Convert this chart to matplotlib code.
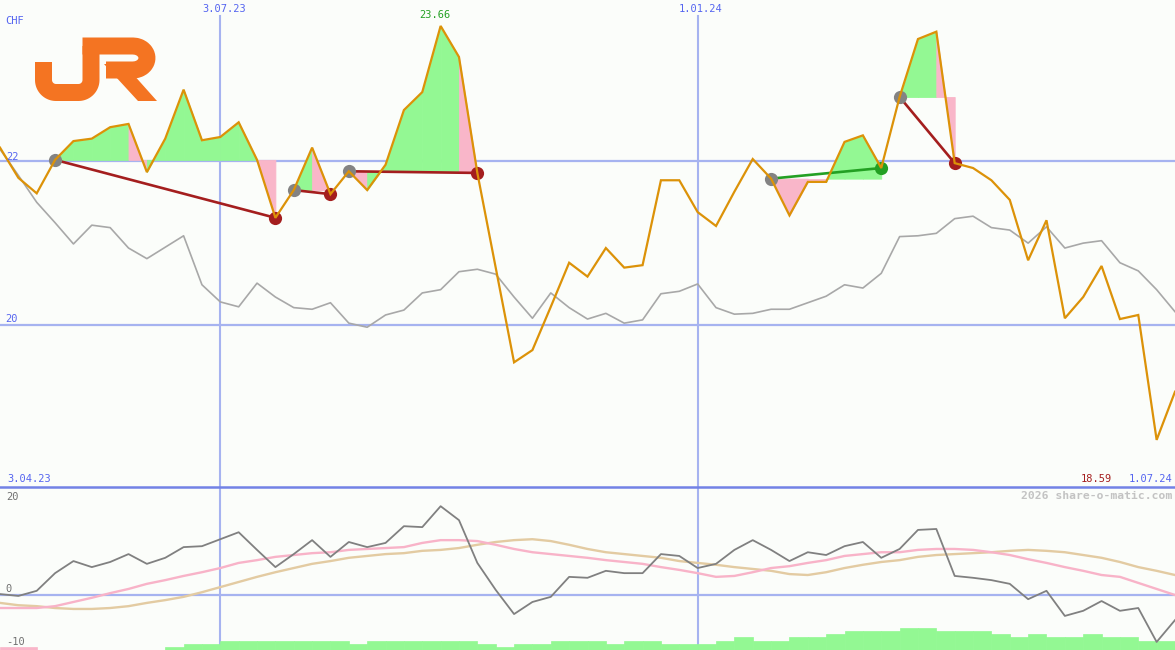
import matplotlib
matplotlib.use("Agg")
import matplotlib.pyplot as plt
from matplotlib.patches import Polygon
import numpy as np

# ---------------- data (weekly, index 0..64) ----------------
price = [22.17, 21.80, 21.61, 22.02, 22.25, 22.28, 22.42, 22.46, 21.87, 22.28,
         22.88, 22.26, 22.30, 22.48, 22.02, 21.31, 21.65, 22.17, 21.60, 21.88,
         21.65, 21.96, 22.63, 22.85, 23.66, 23.28, 21.86, 20.70, 19.54, 19.69,
         20.22, 20.76, 20.59, 20.94, 20.70, 20.73, 21.77, 21.77, 21.38, 21.21,
         21.63, 22.03, 21.79, 21.34, 21.75, 21.75, 22.24, 22.32, 21.92, 22.79,
         23.50, 23.59, 21.98, 21.92, 21.77, 21.53, 20.79, 21.28, 20.08, 20.34,
         20.72, 20.07, 20.12, 18.59, 19.18]

benchmark = [22.15, 21.83, 21.50, 21.25, 20.99, 21.22, 21.19, 20.94, 20.81, 20.95,
             21.09, 20.49, 20.28, 20.22, 20.51, 20.34, 20.21, 20.19, 20.27, 20.02,
             19.97, 20.12, 20.18, 20.39, 20.43, 20.65, 20.68, 20.62, 20.34, 20.08,
             20.39, 20.21, 20.07, 20.14, 20.02, 20.06, 20.38, 20.41, 20.50, 20.21,
             20.13, 20.14, 20.19, 20.19, 20.27, 20.35, 20.49, 20.45, 20.63, 21.08,
             21.09, 21.12, 21.30, 21.33, 21.19, 21.16, 21.00, 21.20, 20.94, 21.00,
             21.03, 20.76, 20.66, 20.43, 20.16]

momentum = [0.2, -0.2, 0.9, 4.7, 7.3, 6.0, 7.1, 8.8, 6.7, 8.0,
            10.3, 10.5, 12.0, 13.5, 9.7, 6.0, 8.8, 11.8, 8.2, 11.4,
            10.3, 11.2, 14.8, 14.6, 19.1, 16.1, 6.9, 1.1, -4.1, -1.5,
            -0.4, 3.9, 3.7, 5.2, 4.7, 4.7, 8.8, 8.4, 5.8, 6.7,
            9.7, 11.8, 9.7, 7.3, 9.2, 8.6, 10.5, 11.4, 8.0, 9.9,
            14.0, 14.2, 4.1, 3.7, 3.2, 2.4, -0.9, 0.9, -4.5, -3.4,
            -1.3, -3.4, -2.8, -10.1, -5.4]

avg_fast = [-2.8, -2.8, -2.8, -2.4, -1.5, -0.6, 0.4, 1.3, 2.4, 3.2,
            4.1, 4.9, 5.8, 6.9, 7.5, 8.2, 8.6, 9.0, 9.2, 9.7,
            9.9, 10.1, 10.3, 11.2, 11.8, 11.8, 11.6, 10.8, 9.9, 9.2,
            8.8, 8.4, 8.0, 7.5, 7.1, 6.7, 6.0, 5.4, 4.7, 3.9,
            4.1, 4.9, 5.8, 6.2, 6.9, 7.5, 8.4, 8.8, 9.2, 9.2,
            9.7, 9.9, 9.9, 9.7, 9.2, 8.6, 7.7, 6.9, 6.0, 5.2,
            4.3, 3.9, 2.6, 1.3, 0.0]

avg_slow = [-1.7, -2.2, -2.4, -2.8, -3.0, -3.0, -2.8, -2.4, -1.7, -1.1,
            -0.4, 0.6, 1.7, 2.8, 3.9, 4.9, 5.8, 6.7, 7.3, 8.0,
            8.4, 8.8, 9.0, 9.5, 9.7, 10.1, 10.8, 11.4, 11.8, 12.0,
            11.6, 10.8, 9.9, 9.2, 8.8, 8.4, 8.0, 7.3, 6.9, 6.5,
            6.0, 5.6, 5.2, 4.5, 4.3, 4.9, 5.8, 6.5, 7.1, 7.5,
            8.2, 8.6, 8.8, 9.0, 9.2, 9.5, 9.7, 9.5, 9.2, 8.6,
            8.0, 7.1, 6.0, 5.2, 4.3]

# weekly strength bars (one per interval between points; negative = pink)
bar_vals = [-1, -1, 0, 0, 0, 0, 0, 0, 0, 1,
            2, 2, 3, 3, 3, 3, 3, 3, 3, 2,
            3, 3, 3, 3, 3, 3, 2, 1, 2, 2,
            3, 3, 3, 2, 3, 3, 2, 2, 2, 3,
            4, 3, 3, 4, 4, 5, 6, 6, 6, 7,
            7, 6, 6, 6, 5, 4, 5, 4, 4, 5,
            4, 4, 3, 3]

entries = [3, 16, 19, 42, 49]
exits = [15, 18, 26, 48, 52]

date_labels = ["3.04.23", "3.07.23", "1.01.24", "1.07.24"]
date_idx = [0, 12, 38, 64]
currency = "CHF"

# ---------------- styling ----------------
W, H = 1175, 650
BG = '#fbfdfa'
GRID = '#a6b3f0'
SEP = '#7282e6'
LBL = '#5565f0'
ORANGE = '#dc9208'
GREYLINE = '#a8a8a8'
GREENF = '#93f893'
PINKF = '#f9b6c9'
DARKRED = '#a41e1e'
GREEN = '#23a023'
MONO = 'DejaVu Sans Mono'

fig = plt.figure(figsize=(W / 100, H / 100), dpi=100, facecolor=BG)

n = len(price)
x = np.arange(n)
top_h = 487

# ---------------- main panel ----------------
ax = fig.add_axes([0, (H - top_h) / H, 1, top_h / H])
ax.set_facecolor(BG)
ax.set_xlim(0, n - 1)
ax.set_ylim(18.013, 23.978)
ax.axis('off')

ax.axhline(22, color=GRID, lw=1.6, zorder=1)
ax.axhline(20, color=GRID, lw=1.6, zorder=1)
for di in date_idx[1:3]:
    ax.axvline(di, ymin=0, ymax=(top_h - 16) / top_h, color=GRID, lw=1.5, zorder=1)

ax.plot(x, benchmark, color=GREYLINE, lw=1.2, zorder=2)

for e, q in zip(entries, exits):
    ref = price[e]
    for k in range(e, q):
        col = GREENF if price[k + 1] >= ref else PINKF
        ax.fill_between([k, k + 1], [price[k], price[k + 1]], ref,
                        facecolor=col, edgecolor=col, lw=0.6, zorder=3)
    win = price[q] > ref
    lc = GREEN if win else DARKRED
    ax.plot([e, q], [price[e], price[q]], color=lc, lw=1.9, zorder=4)
    ax.plot(e, price[e], 'o', color='#838383', ms=9.5, mec='none', zorder=5)
    ax.plot(q, price[q], 'o', color=lc, ms=9.5, mec='none', zorder=5)

ax.plot(x, price, color=ORANGE, lw=1.6, zorder=6, solid_joinstyle='miter')

imax = int(np.argmax(price))
imin = int(np.argmin(price))
ax.annotate(f"{price[imax]:.2f}", (imax, price[imax]), xytext=(-4, 4),
            textcoords='offset points', ha='center', va='bottom',
            color=GREEN, fontsize=7.5, family=MONO)

# ---------------- lower panel ----------------
bot_h = H - top_h
bb = fig.add_axes([0, 0, 1, bot_h / H])
bb.set_facecolor(BG)
bb.set_xlim(0, n - 1)
bb.set_ylim(0, bot_h / 3.15)
bb.axis('off')
for di in date_idx[1:3]:
    bb.axvline(di, color=GRID, lw=1.5, zorder=0)
bar_cols = [PINKF if v < 0 else GREENF for v in bar_vals]
bb.bar(np.arange(len(bar_vals)), [abs(v) for v in bar_vals], width=1.0,
       align='edge', color=bar_cols, edgecolor=bar_cols, lw=0.5, zorder=1)

bx = fig.add_axes([0, 0, 1, bot_h / H])
bx.patch.set_visible(False)
bx.set_xlim(0, n - 1)
bx.set_ylim(-11.83, 23.23)
bx.axis('off')
bx.axhline(0, color=GRID, lw=1.6, zorder=1)
bx.plot(x, avg_slow, color='#e3cba2', lw=1.7, zorder=2)
bx.plot(x, avg_fast, color='#f8b3c8', lw=1.7, zorder=3)
bx.plot(x, momentum, color='#808080', lw=1.3, zorder=4)

# ---------------- overlay: separator, labels, logo ----------------
ov = fig.add_axes([0, 0, 1, 1])
ov.patch.set_visible(False)
ov.set_xlim(0, W)
ov.set_ylim(H, 0)
ov.axis('off')
ov.axhline(top_h, color=SEP, lw=1.8)

fs = 7.5
ov.text(5, 21, currency, color=LBL, fontsize=fs, family=MONO, va='center', ha='left')
ov.text(6, 156.5, "22", color=LBL, fontsize=fs, family=MONO, va='center', ha='left')
ov.text(5, 319.5, "20", color=LBL, fontsize=fs, family=MONO, va='center', ha='left')
ov.text(224, 9, date_labels[1], color=LBL, fontsize=fs, family=MONO, va='center', ha='center')
ov.text(701, 9, date_labels[2], color=LBL, fontsize=fs, family=MONO, va='center', ha='center')
ov.text(7, 479, date_labels[0], color=LBL, fontsize=fs, family=MONO, va='center', ha='left')
ov.text(1172, 479, date_labels[3], color=LBL, fontsize=fs, family=MONO, va='center', ha='right')
ov.text(1112, 479, f"{price[imin]:.2f}", color=DARKRED, fontsize=fs, family=MONO,
        va='center', ha='right')
ov.text(1172, 496, "2026 share-o-matic.com", color='#c3c3c3', fontsize=8.2,
        family=MONO, weight='bold', va='center', ha='right')
ov.text(6, 496.5, "20", color='#707070', fontsize=fs, family=MONO, va='center', ha='left')
ov.text(5, 589.5, "0", color='#707070', fontsize=fs, family=MONO, va='center', ha='left')
ov.text(6, 642, "-10", color='#707070', fontsize=fs, family=MONO, va='center', ha='left')

# JR logo drawn with strokes
LOGO = '#f47422'
lw_px = 17 * 0.72


def arc(cx, cy, rx, ry, a0, a1, k=14):
    t = np.radians(np.linspace(a0, a1, k))
    return list(zip(cx + rx * np.cos(t), cy + ry * np.sin(t)))


jpath = [(43.5, 62), (43.5, 80)] + arc(56, 80, 12.5, 12.5, 180, 90) + \
        arc(78.5, 80, 12.5, 12.5, 90, 0) + [(91, 46)]
jx, jy = zip(*jpath)
ov.plot(jx, jy, color=LOGO, lw=lw_px, solid_capstyle='butt', solid_joinstyle='round')
rpath = [(82.5, 46), (133, 46)] + arc(133, 58, 14, 12, -90, 90) + [(106, 70)]
rx_, ry_ = zip(*rpath)
ov.plot(rx_, ry_, color=LOGO, lw=lw_px, solid_capstyle='butt', solid_joinstyle='round')
ov.add_patch(Polygon([(104, 64), (124, 64), (157, 101), (138, 101)], closed=True,
                     color=LOGO, lw=0))

fig.savefig("out.png", dpi=100, facecolor=BG)
